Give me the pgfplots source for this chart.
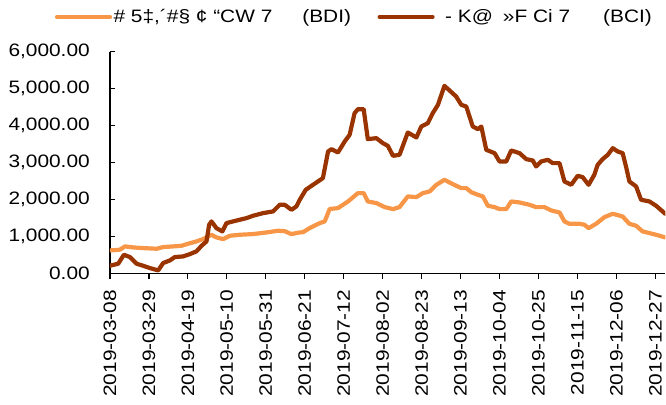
\documentclass[border=0pt]{standalone}
\usepackage{fontspec}
\setmainfont{Liberation Sans}[FakeStretch=1.16]
\usepackage{pgfplots}
\pgfplotsset{compat=1.18}
\definecolor{bdi}{RGB}{247,150,70}
\definecolor{bci}{RGB}{153,51,0}
\begin{document}
\begin{tikzpicture}
\begin{axis}[
  name=ax,
  scale only axis,
  width=556pt, height=222.3pt,
  xmin=0, xmax=213.85, ymin=0, ymax=6000,
  axis x line*=bottom, axis y line*=left,
  axis line style={line width=1.3pt, black},
  every tick/.style={line width=1.3pt, black},
  major tick length=5pt,
  x tick style={yshift=-5pt},
  xtick={0,15,...,210},
  xticklabels={2019-03-08,2019-03-29,2019-04-19,2019-05-10,2019-05-31,2019-06-21,2019-07-12,2019-08-02,2019-08-23,2019-09-13,2019-10-04,2019-10-25,2019-11-15,2019-12-06,2019-12-27},
  ytick={0,1000,...,6000},
  tick label style={font=\fontsize{18}{20}\selectfont, inner sep=0pt},
  xticklabel style={rotate=90, anchor=east},
  xticklabel shift=16pt,
  yticklabel shift=20pt,
  /pgf/number format/.cd, fixed, fixed zerofill, precision=2, 1000 sep={,}, assume math mode=true,
  /pgfplots/.cd,
  legend columns=2,
  legend style={draw=none, fill=none, inner sep=0pt, outer sep=0pt,
    at={(axis description cs:-0.0989,1.156)}, anchor=west,
    font=\fontsize{18}{20}\selectfont,
    nodes={inner sep=1.5pt, anchor=west},
    /tikz/every even column/.append style={column sep=25pt}},
  legend cell align=left,
  legend image code/.code={\draw[#1] (0pt,0pt) -- (53pt,0pt);},
  every axis plot/.append style={line width=4.2pt, line join=round, line cap=round},
]
\addplot[bdi] coordinates {
(0,630) (3.8,648) (5.8,738) (9,711) (12.8,693) (18,675) (20.5,720) (24.3,738)
(27.6,756) (30.1,810) (33.3,873) (35.9,936) (39.1,1053) (41,981) (43.6,936)
(46.2,1026) (50,1053) (55.1,1071) (60.3,1116) (64.7,1161) (67.3,1150) (69.9,1071)
(73.1,1116) (74.3,1120) (76.9,1233) (80.8,1368) (82.7,1413) (84.6,1750)
(87.8,1773) (91.7,1953) (95.5,2178) (97.7,2178) (99.3,1953) (102.6,1908)
(105.8,1800) (109,1746) (111.5,1800) (114.7,2088) (118,2070) (120.5,2178)
(123.1,2223) (125.7,2403) (128.8,2538) (132,2421) (135.3,2313) (137.2,2313)
(139.2,2200) (141.7,2133) (143.6,2088) (145.5,1836) (148.1,1800) (150,1746)
(152.6,1746) (154.5,1953) (157.7,1926) (161.5,1863) (164.1,1800) (167.3,1800)
(169.9,1710) (173.1,1656) (175,1413) (176.9,1350) (180.8,1350) (182.7,1323)
(184.3,1233) (187.2,1350) (190.4,1530) (193.6,1620) (197.4,1547) (200,1350)
(202.6,1296) (205.1,1143) (210.3,1053) (213.8,981)
};
\addlegendentry{\# 5‡,´\#§ ¢ “CW 7\hspace{30pt}(BDI)}
\addplot[bci] coordinates {
(0,216) (3.2,270) (5.4,513) (7.7,450) (10.3,270) (12.8,216) (15.4,153) (18.6,90)
(20.5,288) (23.1,360) (25,450) (28.2,468) (30.8,531) (33.3,603) (35.3,756)
(37.2,873) (38.2,1323) (39.1,1413) (41,1233) (43.3,1143) (44.9,1368) (47.4,1413)
(50,1458) (52.6,1503) (55.1,1566) (59,1638) (62.8,1683) (65.4,1863) (67.3,1863)
(69.9,1728) (71.8,1818) (73.1,1998) (75.4,2268) (78.2,2403) (82,2583) (84,3303)
(85.3,3366) (87.8,3276) (90.4,3573) (92.3,3753) (94.2,4338) (95.5,4446)
(97.7,4446) (99.3,3636) (102.6,3663) (105.1,3528) (107,3456) (109,3186)
(111.5,3213) (114.7,3816) (118,3681) (119.9,3978) (122.4,4068) (124.3,4338)
(126.3,4563) (128.8,5076) (130.8,4950) (133.3,4788) (135.3,4563) (137.2,4518)
(139.7,3978) (141.7,3906) (143,3978) (144.9,3348) (148.1,3258) (150,3033)
(152.6,3033) (154.5,3330) (157.7,3258) (160.3,3096) (162.8,3060) (164.1,2898)
(166,3033) (168.6,3078) (170.5,2988) (173.1,2988) (175,2493) (177.6,2403)
(180.1,2646) (182,2610) (184.3,2403) (186.5,2673) (187.8,2943) (189.7,3096)
(191.7,3213) (193.6,3393) (195.5,3303) (197.4,3258) (198.7,2898) (200,2493)
(202.6,2358) (204.5,1998) (207.7,1953) (210.3,1836) (213.8,1620)
};
\addlegendentry{\hspace{9pt}- K@\hspace{10pt}»F Ci 7\hspace{33pt}(BCI)}
\end{axis}
\path (ax.south west) ++(-110pt,-131pt) rectangle ++(666pt,405pt);
\end{tikzpicture}
\end{document}
